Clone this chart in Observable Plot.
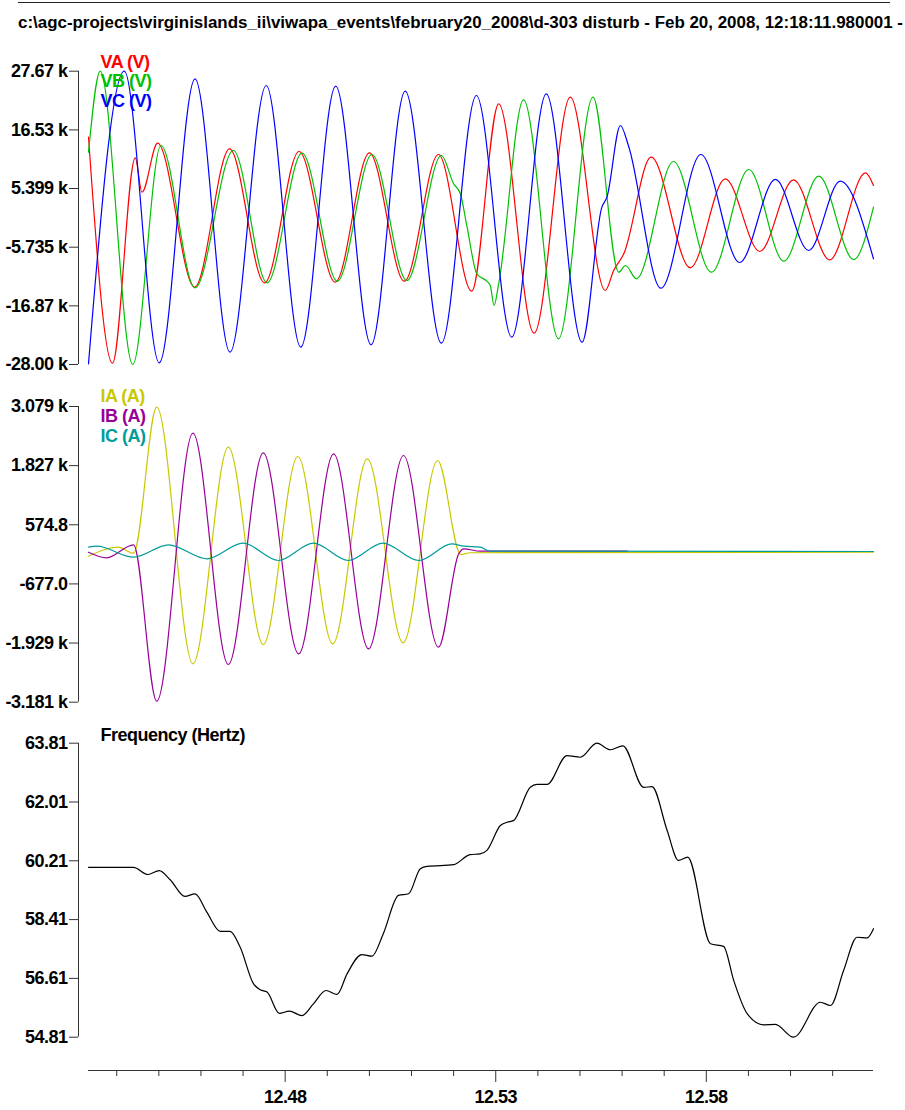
<!DOCTYPE html>
<html><head><meta charset="utf-8">
<script src="https://cdn.jsdelivr.net/npm/d3@7"></script>
<script src="https://cdn.jsdelivr.net/npm/@observablehq/plot@0.6"></script>
<style>
body{margin:0;background:#fff;width:905px;height:1110px;overflow:hidden;position:relative;font-family:"Liberation Sans",Arial,sans-serif;}
#topline{position:absolute;left:18px;top:2px;width:872px;height:0;border-top:1.5px solid #222;}
#title{position:absolute;left:18px;top:14px;font-size:16px;font-weight:bold;white-space:nowrap;transform-origin:0 0;color:#000;}
.panel{position:absolute;left:0;}
</style></head><body>
<div id="topline"></div>
<div id="title">c:\agc-projects\virginislands_ii\viwapa_events\february20_2008\d-303 disturb - Feb 20, 2008, 12:18:11.980001 -</div>
<div id="p1" class="panel" style="top:50px"></div>
<div id="p2" class="panel" style="top:385px"></div>
<div id="p3" class="panel" style="top:715px"></div>
<script>
// ---------- data (time in seconds) ----------
const xDomain = [12.4333, 12.6197];
const xMajorTicks = [12.48, 12.53, 12.58];
const xMinorTicks = [12.44, 12.45, 12.46, 12.47, 12.49, 12.50, 12.51, 12.52, 12.54, 12.55, 12.56, 12.57, 12.59, 12.60, 12.61];

const voltTicks = [27.67, 16.53, 5.399, -5.735, -16.87, -28.00];   // kV
const currTicks = [3079, 1827, 574.8, -677.0, -1929, -3181];        // A
const freqTicks = [63.81, 62.01, 60.21, 58.41, 56.61, 54.81];       // Hz

const voltNames = ["VA (V)", "VB (V)", "VC (V)"];
const voltColors = ["#ff0000", "#00c000", "#0000ff"];
const currNames = ["IA (A)", "IB (A)", "IC (A)"];
const currColors = ["#c8c800", "#990099", "#009b9b"];
const freqName = "Frequency (Hertz)";

const vaTime = [12.4333, 12.4390, 12.4444, 12.4460, 12.4497, 12.4585, 12.4668, 12.4751, 12.4833, 12.4919, 12.5000, 12.5083, 12.5164, 12.5243, 12.5307, 12.5391, 12.5477, 12.5560, 12.5580, 12.5604, 12.5669, 12.5762, 12.5845, 12.5927, 12.6007, 12.6093, 12.6178, 12.6197];
const vaKV = [15.14, -27.75, 11.23, 4.70, 14.00, -13.33, 12.94, -12.49, 12.43, -12.38, 12.18, -12.19, 11.86, -14.09, 21.48, -22.06, 22.74, -13.95, -10.16, -6.99, 11.35, -9.65, 7.25, -6.55, 7.06, -8.13, 8.39, 5.98];

const vbTime = [12.4333, 12.4361, 12.4438, 12.4505, 12.4586, 12.4677, 12.4757, 12.4840, 12.4924, 12.5006, 12.5089, 12.5171, 12.5200, 12.5216, 12.5232, 12.5255, 12.5279, 12.5287, 12.5296, 12.5307, 12.5366, 12.5449, 12.5531, 12.5592, 12.5608, 12.5634, 12.5722, 12.5812, 12.5901, 12.5984, 12.6067, 12.6150, 12.6197];
const vbKV = [12.30, 27.67, -28.00, 13.57, -13.44, 12.62, -12.49, 12.11, -12.19, 11.86, -12.06, 11.67, 6.30, 4.40, -1.94, -10.78, -12.19, -13.00, -16.80, -12.68, 22.24, -23.12, 22.74, -10.48, -9.21, -11.73, 10.53, -10.48, 9.01, -8.39, 7.74, -8.07, 1.86];

const vcTime = [12.4333, 12.4418, 12.4501, 12.4586, 12.4669, 12.4755, 12.4837, 12.4920, 12.5004, 12.5085, 12.5171, 12.5254, 12.5338, 12.5420, 12.5505, 12.5552, 12.5564, 12.5596, 12.5615, 12.5692, 12.5787, 12.5879, 12.5964, 12.6043, 12.6118, 12.6197];
const vcKV = [-27.87, 27.67, -27.68, 26.23, -25.66, 24.96, -24.71, 24.82, -24.26, 23.87, -23.96, 23.06, -22.82, 23.38, -23.77, 1.86, 3.76, 17.36, 13.57, -13.52, 11.86, -8.64, 7.12, -6.36, 6.79, -7.94];

const iaTime = [12.4333, 12.4403, 12.4440, 12.4495, 12.4581, 12.4665, 12.4748, 12.4830, 12.4913, 12.4995, 12.5080, 12.5162, 12.5217, 12.5239, 12.6197];
const iaAmp = [-90, 100, -27, 3064, -2368, 2217, -1960, 2020, -1945, 1972, -1924, 1936, -54, -17, -5];

const ibTime = [12.4333, 12.4376, 12.4440, 12.4495, 12.4581, 12.4665, 12.4748, 12.4832, 12.4915, 12.4998, 12.5081, 12.5164, 12.5212, 12.5224, 12.5263, 12.5612];
const ibAmp = [-5, -124, 151, -3160, 2514, -2383, 2099, -2156, 2078, -2051, 2042, -2017, -40, 67, 16, 16];

const icTime = [12.4333, 12.4353, 12.4440, 12.4523, 12.4614, 12.4700, 12.4784, 12.4867, 12.4950, 12.5032, 12.5117, 12.5196, 12.5224, 12.5263, 12.5287, 12.6197];
const icAmp = [100, 122, -111, 151, -145, 185, -181, 185, -181, 185, -181, 172, 122, 100, 16, 9];

const freqTime = [12.4333, 12.4440, 12.4474, 12.4501, 12.4527, 12.4562, 12.4586, 12.4614, 12.4646, 12.4669, 12.4693, 12.4725, 12.4741, 12.4757, 12.4786, 12.4810, 12.4840, 12.4867, 12.4897, 12.4923, 12.4947, 12.4982, 12.5006, 12.5033, 12.5069, 12.5093, 12.5121, 12.5137, 12.5200, 12.5239, 12.5263, 12.5279, 12.5311, 12.5327, 12.5342, 12.5382, 12.5398, 12.5422, 12.5469, 12.5501, 12.5540, 12.5572, 12.5602, 12.5651, 12.5671, 12.5707, 12.5734, 12.5756, 12.5810, 12.5841, 12.5865, 12.5897, 12.5936, 12.5964, 12.6007, 12.6071, 12.6095, 12.6126, 12.6158, 12.6182, 12.6197];
const freqHz = [60.01, 60.01, 59.79, 59.91, 59.63, 59.12, 59.20, 58.64, 58.05, 58.05, 57.57, 56.44, 56.26, 56.19, 55.54, 55.61, 55.47, 55.83, 56.24, 56.12, 56.75, 57.34, 57.29, 57.98, 59.15, 59.20, 59.97, 60.04, 60.09, 60.40, 60.42, 60.53, 61.29, 61.39, 61.44, 62.46, 62.55, 62.55, 63.43, 63.38, 63.81, 63.61, 63.73, 62.46, 62.48, 61.14, 60.22, 60.32, 57.67, 57.59, 56.55, 55.53, 55.19, 55.20, 54.81, 55.88, 55.78, 56.85, 57.87, 57.85, 58.13];

// ---------- helpers ----------
const rows = (ts, vs) => ts.map((t, i) => ({t, v: vs[i]}));
const fixMinus = s => s.replace(/\u2212/g, "-");
const fmtKV = d => fixMinus(d3.format(".4r")(d)) + " k";
const fmtA = d => fixMinus(d3.format(".4s")(d)).replace(/k$/, " k");
const fmtHz = d => d3.format(".2f")(d);
const FONT = {fontFamily: "'Liberation Sans', Arial, sans-serif", fontSize: "18px", fontWeight: "bold", letterSpacing: "-0.5px", color: "#000", background: "transparent", overflow: "visible"};
const AXIS_COLOR = "#333";
const LW = 1.2;

function legend(names, colors, dys) {
  return names.map((n, i) => Plot.text([n], {
    frameAnchor: "top-left", dx: 22, dy: dys[i], text: d => d, fill: colors[i],
    textAnchor: "start", lineAnchor: "middle", fontSize: 18, fontWeight: "bold"
  }));
}

// ---------- panel 1: voltages ----------
const vSeries = [rows(vaTime, vaKV), rows(vbTime, vbKV), rows(vcTime, vcKV)];
const p1 = Plot.plot({
  width: 905, height: 330,
  marginLeft: 78, marginRight: 32, marginTop: 20.7, marginBottom: 16,
  x: {domain: xDomain, insetLeft: 10, axis: null},
  y: {domain: [voltTicks[5], voltTicks[0]], axis: null},
  style: FONT,
  marks: [
    Plot.ruleX([xDomain[0]], {y1: voltTicks[5], y2: voltTicks[0], dx: -10, stroke: AXIS_COLOR}),
    Plot.axisY({ticks: voltTicks, tickSize: 9, tickPadding: 2, tickFormat: fmtKV, label: null, stroke: AXIS_COLOR}),
    ...vSeries.map((r, i) => Plot.line(r, {x: "t", y: "v", stroke: voltColors[i], strokeWidth: LW, curve: "monotone-x"})),
    ...legend(voltNames, voltColors, [-9, 10.1, 30.1])
  ]
});
document.getElementById("p1").append(p1);

// ---------- panel 2: currents ----------
const iSeries = [rows(iaTime, iaAmp), rows(ibTime, ibAmp), rows(icTime, icAmp)];
const p2 = Plot.plot({
  width: 905, height: 330,
  marginLeft: 78, marginRight: 32, marginTop: 21, marginBottom: 13.3,
  x: {domain: xDomain, insetLeft: 10, axis: null},
  y: {domain: [currTicks[5], currTicks[0]], axis: null},
  style: FONT,
  marks: [
    Plot.ruleX([xDomain[0]], {y1: currTicks[5], y2: currTicks[0], dx: -10, stroke: AXIS_COLOR}),
    Plot.axisY({ticks: currTicks, tickSize: 9, tickPadding: 2, tickFormat: fmtA, label: null, stroke: AXIS_COLOR}),
    ...iSeries.map((r, i) => Plot.line(r, {x: "t", y: "v", stroke: currColors[i], strokeWidth: LW, curve: "monotone-x"})),
    ...legend(currNames, currColors, [-10.5, 9.5, 29.5])
  ]
});
document.getElementById("p2").append(p2);

// ---------- panel 3: frequency ----------
const fRows = rows(freqTime, freqHz);
const p3 = Plot.plot({
  width: 905, height: 395,
  marginLeft: 78, marginRight: 32, marginTop: 27.7, marginBottom: 40,
  x: {domain: xDomain, insetLeft: 10, axis: null},
  y: {domain: [freqTicks[5], freqTicks[0]], insetBottom: 33.3, axis: null},
  style: FONT,
  marks: [
    Plot.ruleX([xDomain[0]], {y1: freqTicks[5], y2: freqTicks[0], dx: -10, stroke: AXIS_COLOR}),
    Plot.ruleY([freqTicks[5]], {x1: xDomain[0], x2: xDomain[1], dy: 33.3, stroke: AXIS_COLOR}),
    Plot.axisY({ticks: freqTicks, tickSize: 9, tickPadding: 2, tickFormat: fmtHz, label: null, stroke: AXIS_COLOR}),
    Plot.axisX({ticks: xMinorTicks, tickSize: 6, tickFormat: () => "", label: null, stroke: AXIS_COLOR}),
    Plot.axisX({ticks: xMajorTicks, tickSize: 12, tickPadding: 8, tickFormat: d => d3.format(".2f")(d), label: null, stroke: AXIS_COLOR}),
    Plot.line(fRows, {x: "t", y: "v", stroke: "#000", strokeWidth: LW, curve: "monotone-x"}),
    Plot.text([freqName], {frameAnchor: "top-left", dx: 22, dy: -7.7, text: d => d, fill: "#000", textAnchor: "start", lineAnchor: "middle", fontSize: 18, fontWeight: "bold"})
  ]
});
document.getElementById("p3").append(p3);

// title: fit the condensed look of the original
const title = document.getElementById("title");
const tw = title.getBoundingClientRect().width;
title.style.transform = `scaleX(${885 / tw})`;
</script>
</body></html>
